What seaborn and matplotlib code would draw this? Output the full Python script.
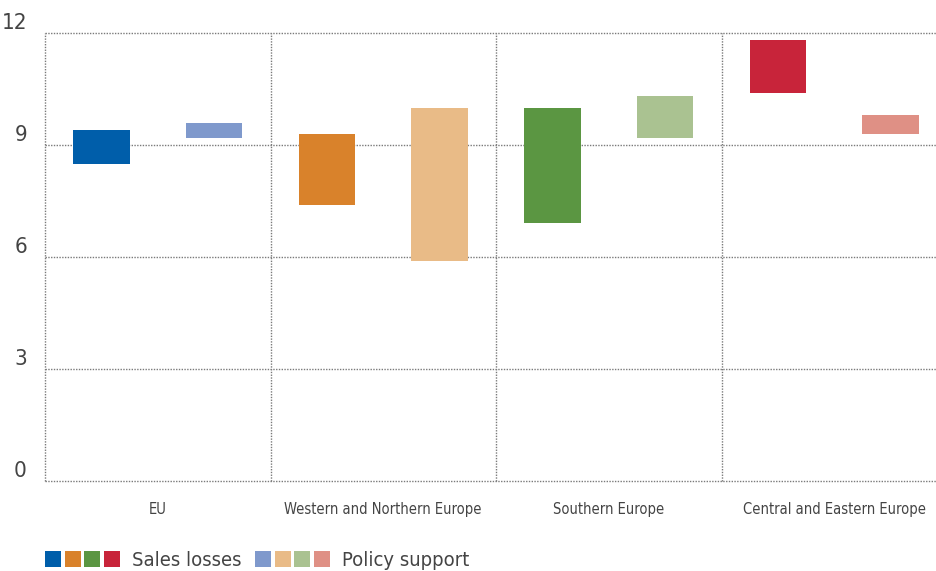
import numpy as np
import pandas as pd
import matplotlib
matplotlib.use("Agg")
import matplotlib.pyplot as plt
import seaborn as sns
from matplotlib.patches import Patch
from matplotlib.legend_handler import HandlerTuple

regions = ["EU", "Western and Northern Europe", "Southern Europe", "Central and Eastern Europe"]
sales_low = [8.5, 7.4, 6.9, 10.4]
sales_high = [9.4, 9.3, 10.0, 11.8]
policy_low = [9.2, 5.9, 9.2, 9.3]
policy_high = [9.6, 10.0, 10.3, 9.8]
sales_colors = ["#005eaa", "#d9822b", "#5b9642", "#c8243a"]
policy_colors = ["#7f99cc", "#e9bb87", "#aac291", "#df9085"]

df = pd.DataFrame({
    "region": regions * 2,
    "series": ["Sales losses"] * 4 + ["Policy support"] * 4,
    "low": sales_low + policy_low,
    "high": sales_high + policy_high,
})
df["span"] = df["high"] - df["low"]

sns.set_style("white")
plt.rcParams["font.family"] = ["DejaVu Sans"]
plt.rcParams["font.stretch"] = "condensed"
text_col = "#444444"

fig = plt.figure(figsize=(9.36, 5.71), dpi=100)
ax = fig.add_axes([45 / 936, 1 - 481 / 571, 902 / 936, 448 / 571])

sns.barplot(data=df, x="region", y="span", hue="series", order=regions,
            hue_order=["Sales losses", "Policy support"], width=1.0, gap=0.5,
            legend=False, ax=ax, errorbar=None, linewidth=0)

# float the bars: move each to its low value and colour it
for patch, low, col in zip(ax.patches, df["low"], sales_colors + policy_colors):
    patch.set_y(low)
    patch.set_facecolor(col)
    patch.set_edgecolor("none")

ax.set_ylim(0, 12)
ax.set_xlim(-0.5, 3.5)
ax.set_yticks([0, 3, 6, 9, 12])
ax.set_xticks(range(4))
ax.set_xticklabels(regions)
ax.set_xticks(np.arange(-0.5, 4), minor=True)
ax.set_xlabel("")
ax.set_ylabel("")
for s in ax.spines.values():
    s.set_visible(False)
ax.grid(axis="y", which="major", linestyle=(0, (1, 1)), color="#7a7a7a", lw=1)
ax.grid(axis="x", which="minor", linestyle=(0, (1, 1)), color="#7a7a7a", lw=1)
ax.grid(axis="x", which="major", visible=False)
for gl in ax.get_ygridlines() + ax.xaxis.get_minorticklines():
    gl.set_clip_on(False)
for t in ax.yaxis.get_major_ticks() + ax.xaxis.get_minor_ticks():
    t.gridline.set_clip_on(False)
ax.set_axisbelow(True)
ax.tick_params(axis="both", which="both", length=0)
ax.tick_params(axis="y", pad=13, labelsize=16, labelcolor=text_col)
ax.tick_params(axis="x", pad=15, labelsize=10.5, labelcolor=text_col)
for lab in ax.get_yticklabels():
    lab.set_va("bottom")

handles = [tuple(Patch(facecolor=c, edgecolor="none") for c in sales_colors),
           tuple(Patch(facecolor=c, edgecolor="none") for c in policy_colors)]
fig.legend(handles, ["Sales losses", "Policy support"],
           handler_map={tuple: HandlerTuple(ndivide=None, pad=0.17)},
           loc="lower left", bbox_to_anchor=(27 / 936, -0.03), ncol=2, frameon=False,
           fontsize=14.5, labelcolor=text_col, handlelength=3.7, handleheight=0.8,
           handletextpad=0.6, columnspacing=0.7)

fig.savefig("out.png", dpi=100)
